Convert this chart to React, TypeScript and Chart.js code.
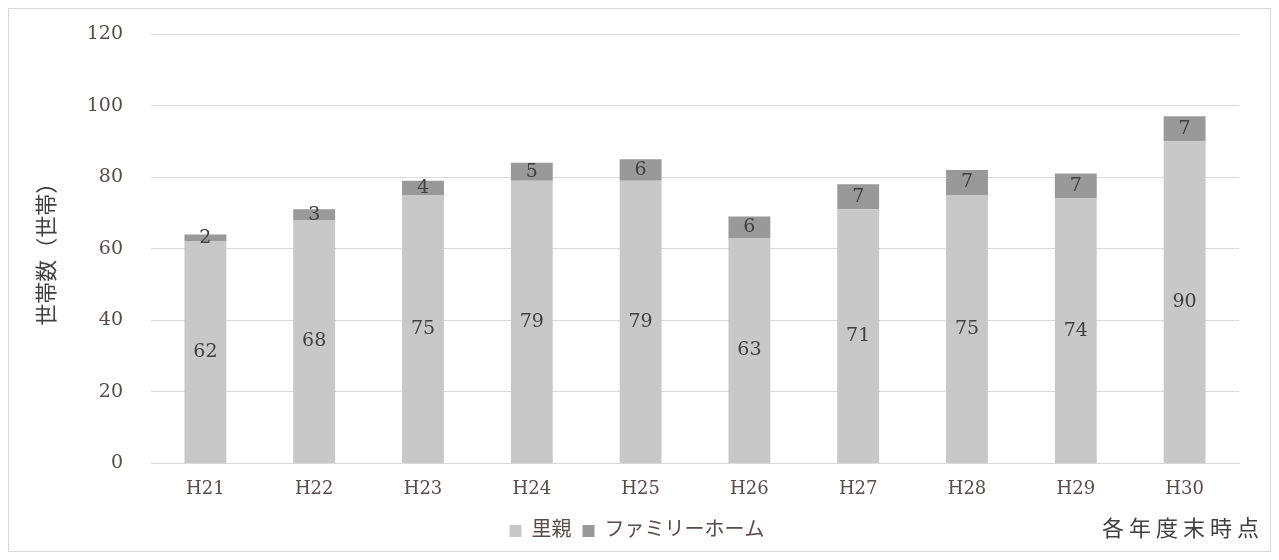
import React, { useEffect, useRef } from "react";
import { Chart, registerables } from "chart.js";

Chart.register(...registerables);

const categories = ["H21", "H22", "H23", "H24", "H25", "H26", "H27", "H28", "H29", "H30"];
const satooya = [62, 68, 75, 79, 79, 63, 71, 75, 74, 90];
const familyHome = [2, 3, 4, 5, 6, 6, 7, 7, 7, 7];
const seriesNames = ["里親", "ファミリーホーム"];
const yTitle = "世帯数（世帯）";
const note = "各年度末時点";

const FONT = "'DejaVu Serif', 'Liberation Serif', 'Noto Sans CJK JP', serif";
const TEXT = "#5a4a48";

const labelPlugin = {
  id: "segLabels",
  afterDatasetsDraw(chart: any) {
    const ctx = chart.ctx;
    ctx.save();
    ctx.font = `19px ${FONT}`;
    ctx.fillStyle = "#404040";
    ctx.textAlign = "center";
    ctx.textBaseline = "middle";
    chart.data.datasets.forEach((ds: any, i: number) => {
      const meta = chart.getDatasetMeta(i);
      meta.data.forEach((bar: any, j: number) => {
        const { x, y, base } = bar.getProps(["x", "y", "base"], true);
        ctx.fillText(String(ds.data[j]), x, (y + base) / 2);
      });
    });
    ctx.restore();
  },
};

export default function App() {
  const ref = useRef<HTMLCanvasElement>(null);
  useEffect(() => {
    if (!ref.current) return;
    const chart = new Chart(ref.current, {
      type: "bar",
      data: {
        labels: categories,
        datasets: [
          { label: seriesNames[0], data: satooya, backgroundColor: "#c8c8c8", categoryPercentage: 1, barPercentage: 0.385 },
          { label: seriesNames[1], data: familyHome, backgroundColor: "#999999", categoryPercentage: 1, barPercentage: 0.385 },
        ],
      },
      options: {
        animation: false,
        responsive: false,
        maintainAspectRatio: false,
        layout: { padding: { left: 26, right: 31, top: 25, bottom: 0 } },
        scales: {
          x: {
            stacked: true,
            grid: { display: false },
            border: { color: "#d9d9d9" },
            ticks: { color: TEXT, font: { family: FONT, size: 18 }, padding: 7 },
            afterFit(scale: any) {
              scale.height += 3;
            },
          },
          y: {
            stacked: true,
            min: 0,
            max: 120,
            ticks: { stepSize: 20, color: TEXT, font: { family: FONT, size: 19 }, padding: 0 },
            grid: { color: "#d9d9d9", drawTicks: true, tickLength: 28, tickColor: "rgba(0,0,0,0)" },
            border: { display: false },
            title: { display: true, text: yTitle, color: "#404040", font: { family: FONT, size: 22 }, padding: 0 },
            afterFit(scale: any) {
              scale.width = 116;
            },
          },
        },
        plugins: {
          legend: {
            position: "bottom",
            labels: { boxWidth: 12, boxHeight: 12, color: TEXT, font: { family: FONT, size: 20 }, padding: 11 },
          },
          tooltip: { enabled: false },
        },
      },
      plugins: [labelPlugin],
    });
    return () => chart.destroy();
  }, []);
  return (
    <div style={{ position: "relative", width: 1261, height: 542, border: "1px solid #d9d9d9", background: "#fff" }}>
      <canvas ref={ref} width={1261} height={542} style={{ display: "block" }} />
      <span style={{ position: "absolute", right: 6, bottom: 9, fontFamily: FONT, fontSize: 22, color: "#404040", letterSpacing: 5 }}>{note}</span>
    </div>
  );
}
